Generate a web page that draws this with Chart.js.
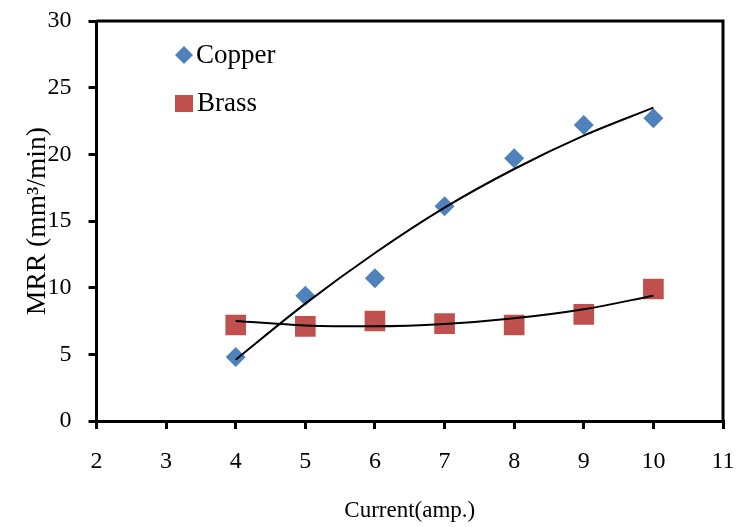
<!DOCTYPE html>
<html>
<head>
<meta charset="utf-8">
<script src="https://cdn.jsdelivr.net/npm/chart.js@4"></script>
<style>
  html, body { margin: 0; padding: 0; background: #fff; }
  #wrap { width: 743px; height: 527px; }
</style>
</head>
<body>
<div id="wrap"><canvas id="c" width="743" height="527"></canvas></div>
<script>
// MRR vs current — copper and brass electrodes, with 2nd-order trendlines
const currents = [4, 5, 6, 7, 8, 9, 10];
const copperMRR = [4.8, 9.4, 10.7, 16.1, 19.7, 22.2, 22.7];
const brassMRR = [7.2, 7.1, 7.5, 7.3, 7.2, 8.0, 9.9];
const copperTrend = [4.6, 8.8, 12.6, 16.0, 18.9, 21.4, 23.5];
const brassTrend = [7.5, 7.17, 7.1, 7.27, 7.7, 8.38, 9.4];
const xTicks = [2, 3, 4, 5, 6, 7, 8, 9, 10, 11];
const yTicks = [0, 5, 10, 15, 20, 25, 30];

const BLUE = '#4F81BD', RED = '#C0504D';
const SERIF = '"Liberation Serif", "Times New Roman", serif';
const pts = ys => currents.map((x, i) => ({ x, y: ys[i] }));

// top + right edges of the plot box
const frame = {
  id: 'frame',
  afterDraw(chart) {
    const { ctx, chartArea: a } = chart;
    ctx.save();
    ctx.strokeStyle = '#000'; ctx.lineWidth = 3;
    ctx.beginPath();
    ctx.moveTo(a.left, a.top); ctx.lineTo(a.right, a.top); ctx.lineTo(a.right, a.bottom);
    ctx.stroke();
    ctx.restore();
  }
};

// in-plot legend, top-left
const legendBox = {
  id: 'legendBox',
  afterDraw(chart) {
    const ctx = chart.ctx;
    ctx.save();
    ctx.fillStyle = BLUE;
    ctx.beginPath();
    ctx.moveTo(184, 46); ctx.lineTo(193, 55); ctx.lineTo(184, 64); ctx.lineTo(175, 55); ctx.closePath();
    ctx.fill();
    ctx.fillStyle = RED;
    ctx.fillRect(175, 95, 18, 17);
    ctx.fillStyle = '#000';
    ctx.font = '27px ' + SERIF;
    ctx.textBaseline = 'middle';
    ctx.fillText('Copper', 196, 56);
    ctx.fillText('Brass', 197, 104);
    ctx.restore();
  }
};

new Chart(document.getElementById('c'), {
  type: 'scatter',
  data: {
    datasets: [
      { label: 'Copper fit', data: pts(copperTrend), showLine: true, borderColor: '#000', borderWidth: 2, pointRadius: 0, cubicInterpolationMode: 'monotone', order: 0 },
      { label: 'Brass fit', data: pts(brassTrend), showLine: true, borderColor: '#000', borderWidth: 2, pointRadius: 0, cubicInterpolationMode: 'monotone', order: 0 },
      { label: 'Copper', data: pts(copperMRR), pointStyle: 'rectRot', pointRadius: 10, backgroundColor: BLUE, borderColor: BLUE, borderWidth: 0, order: 1 },
      { label: 'Brass', data: pts(brassMRR), pointStyle: 'rect', pointRadius: 14.6, backgroundColor: RED, borderColor: RED, borderWidth: 0, order: 1 },
    ],
  },
  options: {
    responsive: false, animation: false, events: [],
    layout: { autoPadding: false, padding: { top: 21, right: 20, left: 0, bottom: 0 } },
    plugins: { legend: { display: false }, tooltip: { enabled: false } },
    scales: {
      x: {
        type: 'linear', min: 2, max: 11,
        afterBuildTicks: s => { s.ticks = xTicks.map(v => ({ value: v })); },
        // fixed axis band; labels may overflow into the layout padding
        afterFit: s => { s.height = 106; s.paddingLeft = 0; s.paddingRight = 0; },
        ticks: { color: '#000', font: { family: SERIF, size: 24 }, padding: 18 },
        grid: { drawOnChartArea: false, drawTicks: true, tickLength: 8, color: '#000', lineWidth: 3 },
        border: { display: true, color: '#000', width: 3 },
        title: { display: true, text: 'Current(amp.)', color: '#000', font: { family: SERIF, size: 23 }, padding: { top: 0, bottom: 2 } },
      },
      y: {
        type: 'linear', min: 0, max: 30,
        afterBuildTicks: s => { s.ticks = yTicks.map(v => ({ value: v })); },
        afterFit: s => { s.width = 96.5; s.paddingTop = 0; s.paddingBottom = 0; },
        ticks: { color: '#000', font: { family: SERIF, size: 24 }, padding: 17 },
        grid: { drawOnChartArea: false, drawTicks: true, tickLength: 8, color: '#000', lineWidth: 3 },
        border: { display: true, color: '#000', width: 3 },
        title: { display: true, text: 'MRR (mm³/min)', color: '#000', font: { family: SERIF, size: 27.5 }, padding: { top: 21, bottom: 0 } },
      },
    },
  },
  plugins: [frame, legendBox],
});
</script>
</body>
</html>
